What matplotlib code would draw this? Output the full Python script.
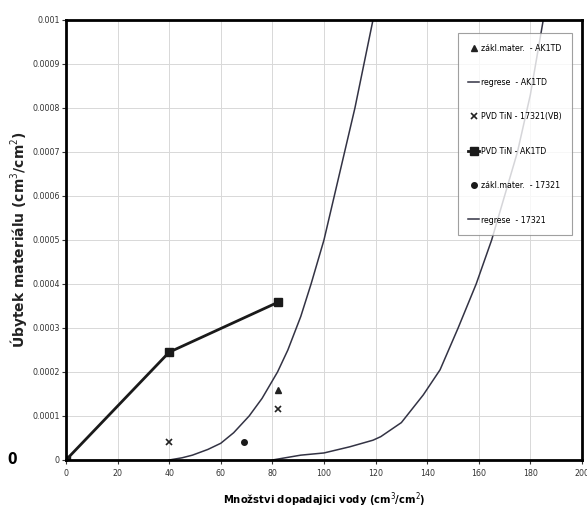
import matplotlib
matplotlib.use('Agg')
import matplotlib.pyplot as plt

# data
x_ak1td_zakl = [82]
y_ak1td_zakl = [0.00016]

x_reg_ak1td = [40, 45, 49, 55, 60, 65, 71, 76, 82, 86, 91, 95, 100, 104, 108, 112, 115.5, 119]
y_reg_ak1td = [0.0, 0.000005, 0.000011, 0.000024, 0.000038, 0.000062, 0.0001, 0.00014, 0.0002,
               0.00025, 0.000326, 0.0004, 0.0005, 0.0006, 0.0007, 0.0008, 0.0009, 0.001]

x_pvd_vb = [40, 82]
y_pvd_vb = [0.00004, 0.000115]

x_pvd_ak1td = [0, 40, 82]
y_pvd_ak1td = [0.0, 0.000245, 0.000358]

x_zakl_17321 = [69]
y_zakl_17321 = [0.00004]

x_reg_17321 = [80, 91, 100, 110, 119, 122, 130, 138.5, 145, 152, 159, 165, 170, 175, 180, 185]
y_reg_17321 = [0.0, 0.000011, 0.000016, 0.00003, 0.000045, 0.000053, 0.000085, 0.000148, 0.000205,
               0.0003, 0.0004, 0.0005, 0.0006, 0.0007, 0.00083, 0.001]

x_ticks = list(range(0, 201, 20))
y_ticks = [0, 0.0001, 0.0002, 0.0003, 0.0004, 0.0005, 0.0006, 0.0007, 0.0008, 0.0009, 0.001]
y_tick_labels = ['0', '0.0001', '0.0002', '0.0003', '0.0004', '0.0005', '0.0006',
                 '0.0007', '0.0008', '0.0009', '0.001']

# narrow look like the original (Arial Narrow)
plt.rcParams['font.family'] = 'DejaVu Sans'
plt.rcParams['font.stretch'] = 'condensed'

fig = plt.figure(figsize=(5.87, 5.15), dpi=100)
ax = fig.add_axes([0.1124, 0.1068, 0.879, 0.8544])

ax.plot(x_ak1td_zakl, y_ak1td_zakl, linestyle='none', marker='^', color='#222222',
        markersize=4, label='zákl.mater.  - AK1TD')
ax.plot(x_reg_ak1td, y_reg_ak1td, color='#333344', linewidth=1.1, label='regrese  - AK1TD')
ax.plot(x_pvd_vb, y_pvd_vb, linestyle='none', marker='x', color='#222222',
        markersize=4.5, markeredgewidth=1.2, label='PVD TiN - 17321(VB)')
ax.plot(x_pvd_ak1td, y_pvd_ak1td, color='#1a1a1a', linewidth=2, marker='s',
        markersize=6, label='PVD TiN - AK1TD')
ax.plot(x_zakl_17321, y_zakl_17321, linestyle='none', marker='o', color='#1a1a1a',
        markersize=4, label='zákl.mater.  - 17321')
ax.plot(x_reg_17321, y_reg_17321, color='#333344', linewidth=1.1, label='regrese  - 17321')

ax.set_xlim(0, 200)
ax.set_ylim(0, 0.001)
ax.set_xticks(x_ticks)
ax.set_yticks(y_ticks)
ax.set_yticklabels(y_tick_labels)
ax.tick_params(labelsize=6.3, colors='#333333', length=3, width=0.8)
ax.tick_params(axis='y', pad=1.5)
ax.grid(True, color='#d8d8d8', linewidth=0.7)
for s in ax.spines.values():
    s.set_linewidth(2)
    s.set_color('black')

ax.set_xlabel('Množstvi dopadajici vody (cm$^3$/cm$^2$)', fontsize=8, fontweight='bold')
ax.xaxis.set_label_coords(0.5, -0.07)
ax.set_ylabel('Úbytek materiálu (cm$^3$/cm$^2$)', fontsize=10, fontweight='bold',
              color='#222222', fontstretch='normal')
ax.yaxis.set_label_coords(-0.072, 0.5)

leg = ax.legend(loc='upper right', bbox_to_anchor=(0.98, 0.97), borderaxespad=0,
                prop={'size': 6.3, 'stretch': 'condensed'}, frameon=True, fancybox=False,
                edgecolor='#888888', handlelength=1.2, labelspacing=2.9,
                borderpad=1.2, handletextpad=0.2)
leg.get_frame().set_linewidth(0.8)

fig.text(0.012, 0.107, '0', fontsize=11, fontweight='bold', va='center')

fig.savefig('out.png', dpi=100)
